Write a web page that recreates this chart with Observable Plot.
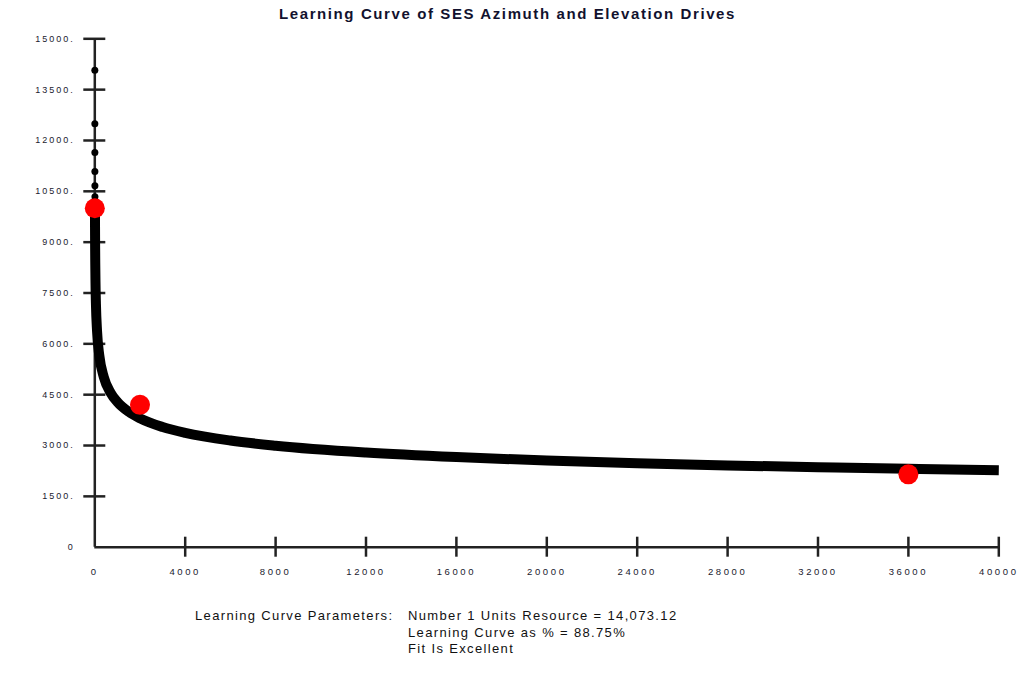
<!DOCTYPE html>
<html>
<head>
<meta charset="utf-8">
<script src="https://cdn.jsdelivr.net/npm/d3@7"></script>
<script src="https://cdn.jsdelivr.net/npm/@observablehq/plot@0.6"></script>
<style>
  html, body { margin: 0; padding: 0; background: #fff; }
  #wrap { position: relative; width: 1033px; height: 688px; font-family: "Liberation Sans", Arial, sans-serif; }
  #title { position: absolute; left: 0; width: 1015px; top: 5px; text-align: center; font-weight: bold; font-size: 15px; color: #12122e; letter-spacing: 1.6px; }
  #caption { position: absolute; left: 195px; top: 608px; font-size: 13px; color: #111; line-height: 16.5px; letter-spacing: 1.35px; }
  #caption .lab { position: absolute; left: 0; top: 0; white-space: nowrap; }
  #caption .vals { position: absolute; left: 213px; top: 0; white-space: nowrap; }
  #chart { position: absolute; left: 0; top: 0; }
</style>
</head>
<body>
<div id="wrap">
  <div id="chart"></div>
  <div id="title">Learning Curve of SES Azimuth and Elevation Drives</div>
  <div id="caption">
    <div class="lab">Learning Curve Parameters:</div>
    <div class="vals">Number 1 Units Resource = 14,073.12<br>Learning Curve as % = 88.75%<br>Fit Is Excellent</div>
  </div>
</div>
<script>
// Fitted learning curve (from unit 8 on): cumulative unit number vs. resource per unit
const curveUnits = [8, 10, 12, 15, 20, 30, 50, 100, 200, 400, 700, 1000, 1500, 2000, 3000, 4000, 6000, 8000, 12000, 16000, 20000, 24000, 28000, 32000, 36000, 40000];
const curveValues = [9838, 9467, 9174, 8828, 8402, 7834, 7176, 6368, 5652, 5016, 4555, 4284, 3995, 3802, 3546, 3374, 3147, 2995, 2793, 2658, 2557, 2479, 2413, 2359, 2311, 2269];

// Early units drawn as individual dots
const dotUnits = [1, 2, 3, 4, 5, 6, 7, 8, 9, 10];
const dotValues = [14073, 12490, 11647, 11085, 10668, 10337, 10067, 9838, 9643, 9467];

// Observed data points
const obsUnits = [1, 2000, 36000];
const obsValues = [10000, 4200, 2150];

// Axis ticks
const xTicks = [0, 4000, 8000, 12000, 16000, 20000, 24000, 28000, 32000, 36000, 40000];
const yTicks = [0, 1500, 3000, 4500, 6000, 7500, 9000, 10500, 12000, 13500, 15000];

const curve = curveUnits.map((u, i) => ({u, v: curveValues[i]}));
const dots = dotUnits.map((u, i) => ({u, v: dotValues[i]}));
const obs = obsUnits.map((u, i) => ({u, v: obsValues[i]}));

const axisColor = "#222";

const chart = Plot.plot({
  width: 1033,
  height: 688,
  marginLeft: 94.3,
  marginRight: 34.7,
  marginTop: 38.3,
  marginBottom: 141.3,
  style: { background: "transparent", fontFamily: "'Liberation Sans', Arial, sans-serif" },
  x: { domain: [0, 40000] },
  y: { domain: [0, 15000] },
  marks: [
    // axis lines
    Plot.ruleX([0], { y1: 0, y2: 15000, stroke: axisColor, strokeWidth: 2.5 }),
    Plot.ruleY([0], { x1: 0, x2: 40000, stroke: axisColor, strokeWidth: 2.5 }),
    // crossing tick marks
    Plot.ruleY(yTicks.slice(1), { y: d => d, x1: 0, x2: 0, insetLeft: -11, insetRight: -11, stroke: axisColor, strokeWidth: 2.5 }),
    Plot.ruleX(xTicks.slice(1), { x: d => d, y1: 0, y2: 0, insetTop: -10, insetBottom: -10, stroke: axisColor, strokeWidth: 2.5 }),
    // tick labels
    Plot.axisY(yTicks, { tickSize: 0, tickPadding: 20, fontSize: 9, fill: "#1a1a2e", tickFormat: d => d === 0 ? "0" : d + ".", label: null }),
    Plot.axisX(xTicks, { tickSize: 0, tickPadding: 21, fontSize: 9.5, fill: "#1a1a2e", tickFormat: d => String(d), label: null }),
    // fitted curve
    Plot.line(curve, { x: "u", y: "v", stroke: "black", strokeWidth: 10, curve: "monotone-x", strokeLinecap: "butt", strokeLinejoin: "round" }),
    Plot.dot(dots, { x: "u", y: "v", r: 3.5, fill: "black" }),
    // observed points
    Plot.dot(obs, { x: "u", y: "v", r: 10, fill: "#ff0000" })
  ]
});
// widen the tick label lettering
chart.querySelectorAll('[aria-label="y-axis tick label"] text').forEach(t => t.setAttribute("letter-spacing", "2"));
chart.querySelectorAll('[aria-label="x-axis tick label"] text').forEach(t => t.setAttribute("letter-spacing", "2.6"));
document.getElementById("chart").appendChild(chart);
</script>
</body>
</html>
